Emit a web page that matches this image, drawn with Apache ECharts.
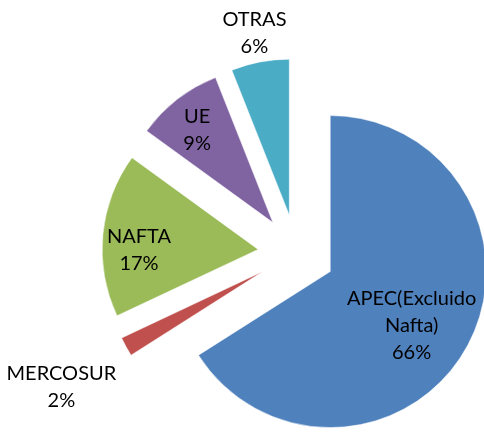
<!DOCTYPE html>
<html>
<head>
<meta charset="utf-8">
<script src="https://cdn.jsdelivr.net/npm/echarts@6/dist/echarts.min.js"></script>
<style>
  html, body { margin: 0; padding: 0; background: #fff; }
  #chart { width: 484px; height: 432px; }
</style>
</head>
<body>
<div id="chart"></div>
<script>
// datos del gráfico
const categories = ['APEC(Excluido\nNafta)', 'MERCOSUR', 'NAFTA', 'UE', 'OTRAS'];
const shares = [66, 2, 17, 9, 6];
const colors = ['#4F81BD', '#C0504D', '#9BBB59', '#8064A2', '#4BACC6'];

// posición de las etiquetas (centro del bloque de texto)
const labelPos = [[409, 324], [64, 386], [142, 250], [199, 132], [255, 36]];

const cx = 296.5, cy = 253, radio = 156, explode = 38.5;
const total = shares.reduce((a, b) => a + b, 0);

// desplazamiento de cada etiqueta desde su posición "inside" por defecto
const offsets = [];
let acc = 0;
shares.forEach((v, i) => {
  const mid = (acc + v / 2) / total * Math.PI * 2;
  acc += v;
  const d = explode + radio / 2;
  const x0 = cx + d * Math.sin(mid);
  const y0 = cy - d * Math.cos(mid);
  offsets.push([labelPos[i][0] - x0, labelPos[i][1] - y0]);
});

const chart = echarts.init(document.getElementById('chart'));

chart.setOption({
  animation: false,
  series: [{
    type: 'pie',
    center: [cx, cy],
    radius: [0, radio],
    startAngle: 90,
    clockwise: true,
    selectedMode: 'multiple',
    selectedOffset: explode,
    percentPrecision: 0,
    emphasis: { disabled: true },
    itemStyle: { borderColor: '#fff', borderWidth: 0.5 },
    label: {
      show: true,
      position: 'inside',
      formatter: '{b}\n{d}%',
      color: '#000',
      fontFamily: 'Lato',
      fontSize: 20,
      lineHeight: 27,
      align: 'center'
    },
    labelLine: { show: false },
    labelLayout: function (p) {
      return { dx: offsets[p.dataIndex][0], dy: offsets[p.dataIndex][1] };
    },
    data: categories.map((name, i) => ({
      name: name,
      value: shares[i],
      selected: true,
      itemStyle: { color: colors[i] }
    }))
  }]
});
</script>
</body>
</html>
